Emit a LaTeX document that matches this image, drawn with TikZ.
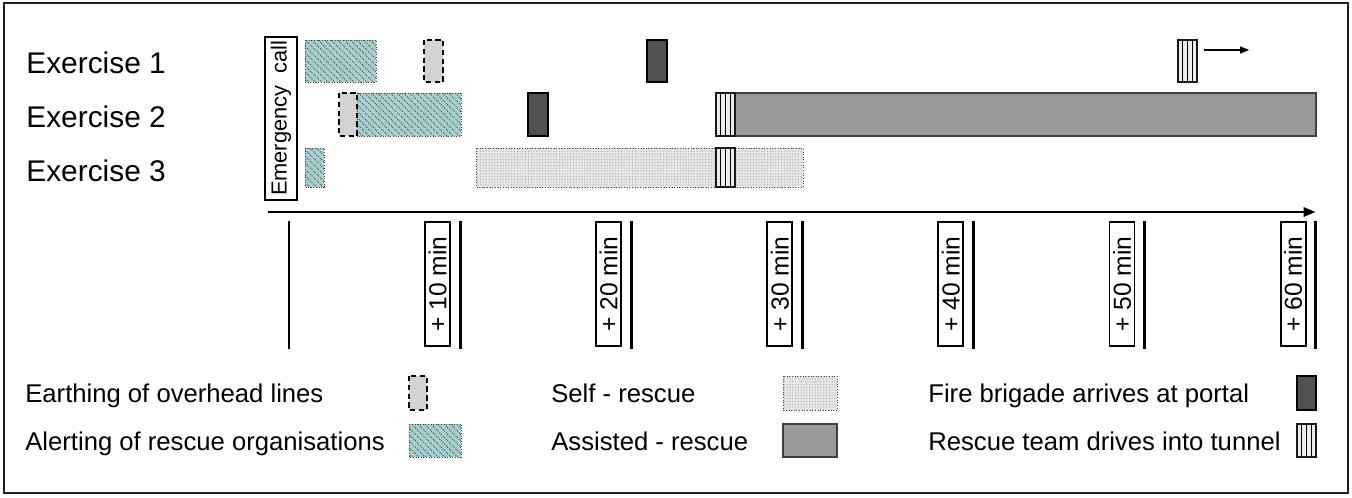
\documentclass[tikz,border=0pt]{standalone}
\usepackage{fontspec}
\setmainfont{Liberation Sans}
\usetikzlibrary{arrows.meta, patterns.meta}

\definecolor{alertbg}{RGB}{168,206,206}
\definecolor{alerthatch}{RGB}{60,90,90}
\definecolor{assistgray}{RGB}{153,153,153}
\definecolor{firegray}{RGB}{80,80,80}

% rescue team box: x1, x2, y1, y2
\newcommand{\teambox}[4]{%
  \fill[gray!15] (#1,#3) rectangle (#2,#4);
  \foreach \k in {1,2,3}
    \draw[line width=0.7pt] ({#1+\k*(#2-#1)/4},#3) -- ({#1+\k*(#2-#1)/4},#4);
  \draw[line width=0.7pt, gray!20!black] (#1,#3) rectangle (#2,#4);
}

\begin{document}
\begin{tikzpicture}[x=0.02cm, y=-0.02cm,
  exlabel/.style={anchor=base west, inner sep=0pt, font=\fontsize{17}{20}\selectfont},
  legtext/.style={anchor=base west, inner sep=0pt, font=\fontsize{14.6}{17}\selectfont},
  ticklabel/.style={draw, line width=1.1pt, rotate=90, inner sep=0pt,
    minimum width=2.48cm, minimum height=0.5cm, font=\fontsize{14}{16}\selectfont},
  alert/.style={draw=gray!50!black, line width=0.5pt, densely dotted, preaction={fill=alertbg},
    pattern={Lines[angle=-45, distance=2.6pt, line width=0.6pt]}, pattern color=alerthatch},
  earthing/.style={draw=black, line width=1.1pt, dash pattern=on 3pt off 2pt, fill=gray!35},
  selfrescue/.style={draw=gray!50!black, line width=0.5pt, densely dotted, preaction={fill=gray!18},
    pattern={Dots[distance=1.6pt, radius=0.35pt]}, pattern color=gray!70},
  assisted/.style={draw=gray!50!black, line width=0.6pt, fill=assistgray},
  fire/.style={draw=black, line width=1.2pt, fill=firegray},
  tick/.style={line width=1.7pt}]

\useasboundingbox (0,0) rectangle (1352,497);
\draw[line width=1.1pt, gray!25!black] (4,3) rectangle (1348,493);

% Row labels
\node[exlabel] (ex1) at (26,73) {Exercise 1};
\node[exlabel] (ex2) at (26,127) {Exercise 2};
\node[exlabel] (ex3) at (26,181) {Exercise 3};

\node[draw, line width=1.1pt, rotate=90, inner sep=0pt, minimum width=3.26cm, minimum height=0.64cm,
  font=\fontsize{12.4}{15}\selectfont] (call) at (281,118.5) {Emergency\ \ call};

% Exercise 1
\draw[alert] (305,40) rectangle (376,82);
\draw[earthing] (424,40) rectangle (443,82);
\draw[fire] (647,40) rectangle (667,82);
\teambox{1178}{1197}{40}{82}
\coordinate (go1) at (1204,50);
\coordinate (go2) at (1249,50);
\draw[line width=0.6pt, -{Triangle[length=5pt, width=4pt]}] (go1) -- (go2);

% Exercise 2
\draw[alert] (357,93) rectangle (461,136);
\draw[earthing] (339,93) rectangle (357,136);
\draw[fire] (528,93) rectangle (548,136);
\draw[assisted] (716,93) rectangle (1316,136);
\teambox{716}{735}{93}{136}

% Exercise 3
\draw[alert] (305,148) rectangle (324,187);
\draw[selfrescue] (476,148) rectangle (803,187);
\teambox{716}{735}{148}{187}

% Time axis
\coordinate (t0) at (268,212);
\coordinate (tend) at (1316,212);
\draw[line width=1.7pt, -{Triangle[length=7pt, width=5pt]}] (t0) -- (tend);
\draw[tick] (289,221) -- (289,349);
\foreach \m in {1,...,6} {
  \draw[tick] ({289+171.1*\m},221) -- ({289+171.1*\m},349);
  \node[ticklabel] (lbl\m) at ({289+171.1*\m-22.5},284) {+ \m0 min};
}

% Legend
\node[legtext] (leg1) at (25,402) {Earthing of overhead lines};
\node[legtext] (leg2) at (25,450) {Alerting of rescue organisations};
\node[legtext] (leg3) at (551,402) {Self - rescue};
\node[legtext] (leg4) at (551,450) {Assisted - rescue};
\node[legtext] (leg5) at (928,402) {Fire brigade arrives at portal};
\node[legtext] (leg6) at (928,450) {Rescue team drives into tunnel};

\draw[earthing] (409,376) rectangle (427,410);
\draw[alert] (409,424) rectangle (461,457);
\draw[selfrescue] (783,376) rectangle (837,410);
\draw[assisted] (783,424) rectangle (837,457);
\draw[fire] (1297,376) rectangle (1316,410);
\teambox{1297}{1316}{424}{457}
\end{tikzpicture}
\end{document}
